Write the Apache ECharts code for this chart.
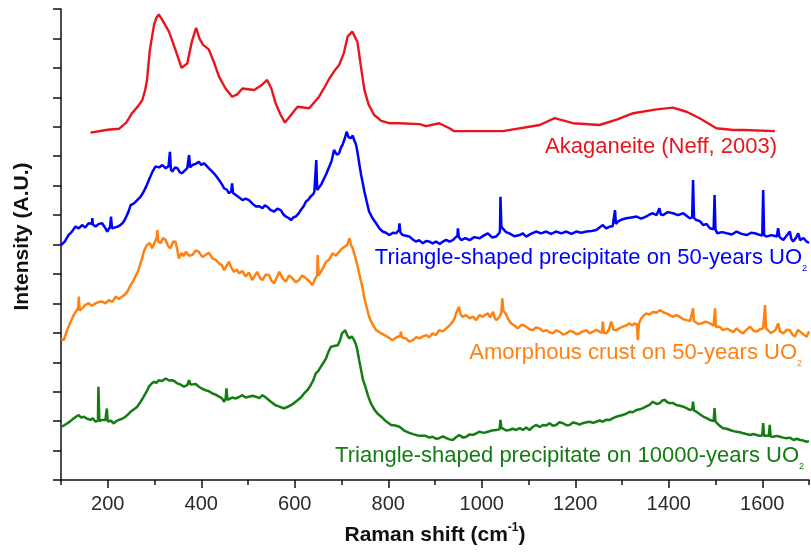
<!DOCTYPE html>
<html>
<head>
<meta charset="utf-8">
<script src="https://cdn.jsdelivr.net/npm/echarts@6/dist/echarts.min.js"></script>
<style>
  html, body { margin: 0; background: #fff; }
  #chart { width: 811px; height: 554px; }
</style>
</head>
<body>
<div id="chart"></div>
<script>
// spectra: [Raman shift, offset intensity]
const akaganeite = [[163,11.80],[200,11.90],[224,11.93],[240,12.15],[252,12.46],[265,12.70],[274,12.91],[280,13.25],[284,13.59],[290,14.6],[299,15.46],[304,15.70],[309,15.82],[316,15.65],[331,15.23],[345,14.6],[358,14.00],[370,14.15],[380,14.9],[389,15.36],[396,15.0],[404,14.78],[416,14.63],[427,14.2],[438,13.70],[452,13.3],[466,13.02],[477,13.1],[488,13.30],[513,13.25],[528,13.4],[541,13.59],[550,13.3],[559,12.80],[570,12.4],[579,12.14],[592,12.4],[606,12.68],[631,12.63],[652,13.02],[664,13.35],[674,13.64],[685,13.9],[695,14.10],[705,14.5],[713,15.06],[723,15.23],[734,14.89],[741,14.1],[749,13.25],[758,12.75],[770,12.40],[785,12.2],[802,12.12],[824,12.12],[867,12.09],[881,12.02],[909,12.12],[931,11.95],[941,11.85],[1045,11.85],[1124,12.06],[1156,12.29],[1195,12.12],[1252,12.06],[1290,12.25],[1324,12.46],[1374,12.59],[1409,12.65],[1438,12.51],[1466,12.29],[1502,11.95],[1538,11.89],[1559,11.89],[1627,11.85]];

const tri50 = [[100,7.98],[108,8.10],[116,8.32],[124,8.45],[131,8.61],[138,8.55],[145,8.66],[152,8.58],[159,8.72],[166,8.70],[167,8.90],[168,8.68],[174,8.61],[181,8.70],[188,8.72],[194,8.58],[199,8.44],[205,8.60],[207,8.95],[209,8.55],[213,8.49],[220,8.60],[227,8.66],[233,8.75],[238,8.89],[244,9.10],[249,9.34],[256,9.40],[263,9.51],[270,9.62],[277,9.80],[283,10.0],[288,10.19],[295,10.45],[302,10.65],[310,10.62],[317,10.70],[324,10.59],[330,10.66],[333,11.15],[335,10.55],[338,10.48],[344,10.62],[349,10.59],[354,10.46],[359,10.42],[365,10.52],[370,10.59],[374,11.04],[376,10.62],[381,10.70],[388,10.74],[395,10.81],[400,10.70],[406,10.76],[411,10.68],[416,10.59],[422,10.50],[427,10.42],[433,10.30],[438,10.19],[444,10.05],[449,9.91],[455,9.86],[459,9.74],[464,9.80],[466,10.08],[468,9.75],[474,9.68],[481,9.60],[488,9.51],[495,9.56],[502,9.51],[510,9.38],[517,9.29],[524,9.30],[531,9.23],[536,9.33],[541,9.29],[548,9.18],[556,9.12],[563,9.22],[570,9.17],[576,9.02],[581,8.95],[587,8.90],[592,8.83],[597,8.92],[602,8.95],[608,9.05],[613,9.17],[619,9.30],[624,9.46],[629,9.52],[634,9.63],[640,9.72],[642,9.80],[646,10.87],[648,9.85],[651,9.85],[657,10.05],[663,10.25],[668,10.42],[674,10.65],[679,10.85],[684,11.21],[690,11.05],[695,11.10],[699,11.30],[702,11.38],[707,11.60],[711,11.83],[715,11.65],[720,11.61],[724,11.70],[727,11.55],[731,11.40],[734,11.15],[738,10.75],[742,10.36],[746,10.05],[749,9.80],[754,9.45],[759,9.12],[766,8.90],[774,8.72],[781,8.55],[788,8.44],[795,8.40],[802,8.32],[810,8.40],[817,8.38],[823,8.50],[824,8.72],[826,8.40],[831,8.32],[838,8.30],[845,8.27],[852,8.18],[859,8.10],[866,8.15],[874,8.04],[881,8.12],[888,8.10],[895,8.04],[902,8.10],[910,8.02],[917,8.10],[924,8.16],[931,8.10],[938,8.15],[942,8.21],[948,8.30],[949,8.55],[951,8.25],[956,8.15],[965,8.22],[974,8.15],[984,8.25],[995,8.21],[1004,8.30],[1013,8.38],[1022,8.24],[1031,8.27],[1038,8.40],[1039,8.49],[1040,9.62],[1042,8.60],[1045,8.55],[1052,8.42],[1059,8.38],[1070,8.28],[1081,8.32],[1088,8.38],[1095,8.27],[1105,8.36],[1116,8.44],[1127,8.38],[1138,8.44],[1148,8.36],[1159,8.44],[1170,8.38],[1181,8.44],[1192,8.36],[1202,8.44],[1213,8.40],[1224,8.44],[1235,8.46],[1245,8.49],[1252,8.58],[1259,8.66],[1266,8.55],[1274,8.61],[1280,8.62],[1285,9.17],[1287,8.70],[1291,8.78],[1300,8.85],[1309,8.89],[1320,8.92],[1331,8.95],[1341,8.88],[1352,8.95],[1359,9.02],[1366,9.06],[1374,9.00],[1380,9.23],[1383,9.02],[1388,9.00],[1398,9.10],[1409,9.06],[1420,9.00],[1431,9.06],[1440,8.95],[1445,8.89],[1450,8.92],[1452,10.19],[1454,8.90],[1459,8.83],[1466,8.80],[1474,8.66],[1481,8.70],[1488,8.55],[1496,8.52],[1498,9.68],[1500,8.50],[1504,8.38],[1514,8.42],[1524,8.38],[1535,8.34],[1545,8.44],[1556,8.36],[1567,8.32],[1576,8.40],[1584,8.38],[1592,8.34],[1600,8.30],[1602,9.85],[1604,8.32],[1609,8.27],[1620,8.32],[1631,8.27],[1634,8.55],[1637,8.25],[1645,8.15],[1652,8.30],[1659,8.44],[1662,8.20],[1666,8.10],[1672,8.22],[1677,8.38],[1681,8.15],[1688,8.22],[1695,8.10],[1700,8.05]];

const crust50 = [[100,4.80],[106,4.75],[113,5.09],[120,5.35],[127,5.60],[133,5.75],[137,5.85],[138,6.23],[140,5.75],[145,5.83],[152,5.95],[159,6.00],[166,5.92],[174,6.00],[181,6.05],[188,6.06],[195,6.00],[202,6.11],[210,6.05],[217,6.23],[224,6.15],[231,6.23],[237,6.30],[242,6.40],[249,6.62],[254,6.75],[259,6.91],[265,7.10],[270,7.36],[274,7.55],[277,7.75],[281,7.90],[284,7.98],[290,8.05],[295,7.87],[300,8.05],[305,8.25],[306,8.49],[308,8.10],[313,8.04],[318,8.22],[324,8.15],[329,7.95],[334,7.87],[340,8.10],[345,8.09],[349,7.80],[352,7.53],[358,7.72],[362,7.60],[367,7.75],[374,7.62],[381,7.64],[388,7.80],[395,7.75],[402,7.58],[409,7.64],[416,7.72],[424,7.53],[431,7.48],[438,7.36],[444,7.30],[449,7.13],[455,7.30],[459,7.41],[465,7.20],[470,7.07],[476,7.15],[481,7.02],[488,7.10],[495,6.91],[502,7.05],[509,6.79],[515,6.95],[520,7.07],[526,6.85],[531,6.79],[538,6.98],[545,6.96],[550,6.78],[556,6.68],[562,6.90],[567,7.07],[574,6.85],[581,6.74],[588,6.95],[595,6.85],[602,6.72],[609,6.79],[616,6.95],[624,6.85],[631,6.75],[638,6.62],[644,6.85],[648,6.95],[649,7.64],[651,6.95],[656,7.07],[662,7.25],[667,7.41],[674,7.50],[681,7.70],[688,7.62],[695,7.75],[700,7.85],[706,7.92],[712,7.98],[717,8.21],[720,8.00],[724,7.87],[729,7.60],[734,7.30],[738,7.00],[742,6.74],[746,6.45],[749,6.17],[754,5.85],[759,5.55],[766,5.30],[774,5.09],[783,5.00],[792,4.92],[800,4.85],[809,4.75],[818,4.85],[826,4.90],[827,5.04],[829,4.85],[838,4.81],[845,4.70],[852,4.75],[860,4.85],[867,4.81],[874,4.88],[881,4.92],[888,4.85],[895,4.98],[902,4.92],[909,5.09],[917,5.05],[924,5.15],[931,5.25],[938,5.38],[942,5.50],[945,5.66],[951,5.88],[955,5.62],[959,5.54],[966,5.60],[974,5.49],[981,5.55],[988,5.43],[995,5.60],[1002,5.54],[1008,5.62],[1013,5.66],[1018,5.52],[1024,5.71],[1028,5.50],[1031,5.43],[1038,5.54],[1042,5.70],[1044,6.17],[1046,5.75],[1051,5.66],[1057,5.45],[1063,5.32],[1070,5.25],[1077,5.15],[1086,5.28],[1095,5.21],[1102,5.12],[1109,5.09],[1116,5.18],[1124,5.15],[1131,5.05],[1138,5.09],[1145,5.02],[1152,4.98],[1159,5.08],[1166,5.04],[1174,4.94],[1181,4.98],[1188,5.06],[1195,5.04],[1202,4.96],[1209,4.98],[1216,5.05],[1224,5.09],[1231,4.98],[1238,5.04],[1245,5.10],[1252,5.04],[1257,5.00],[1259,5.38],[1261,5.00],[1266,4.98],[1272,5.10],[1277,5.38],[1282,5.10],[1288,5.09],[1295,5.16],[1302,5.21],[1309,5.25],[1316,5.32],[1322,5.25],[1327,5.32],[1332,5.28],[1334,4.75],[1336,5.30],[1341,5.49],[1346,5.58],[1352,5.66],[1359,5.62],[1366,5.71],[1374,5.68],[1381,5.77],[1388,5.70],[1395,5.66],[1402,5.60],[1409,5.54],[1416,5.60],[1424,5.54],[1431,5.46],[1438,5.43],[1446,5.40],[1452,5.83],[1454,5.40],[1456,5.38],[1463,5.30],[1470,5.32],[1479,5.38],[1488,5.32],[1496,5.24],[1499,5.83],[1501,5.20],[1502,5.15],[1509,5.20],[1516,5.09],[1524,5.14],[1531,5.09],[1538,5.02],[1545,5.15],[1552,5.05],[1559,4.98],[1566,5.10],[1574,5.21],[1581,5.08],[1588,5.04],[1595,5.12],[1602,5.15],[1605,5.10],[1606,5.94],[1608,5.15],[1611,5.09],[1618,5.00],[1624,5.04],[1629,5.12],[1634,5.32],[1638,5.05],[1645,4.98],[1652,5.10],[1659,5.09],[1664,4.95],[1670,4.87],[1676,5.10],[1681,5.04],[1688,4.95],[1695,4.87],[1700,5.05]];

const tri10000 = [[100,1.81],[106,1.85],[113,1.92],[120,2.00],[127,2.09],[133,2.16],[138,2.20],[143,2.12],[149,2.15],[156,2.08],[163,2.04],[168,2.10],[174,1.98],[179,2.02],[180,3.17],[182,2.00],[188,2.04],[195,2.04],[197,2.10],[198,2.43],[200,1.98],[206,2.02],[213,1.92],[218,2.00],[224,2.04],[231,2.08],[238,2.15],[244,2.24],[249,2.32],[256,2.40],[263,2.49],[270,2.65],[277,2.83],[283,3.00],[288,3.17],[294,3.28],[299,3.34],[304,3.30],[309,3.39],[316,3.36],[324,3.45],[331,3.38],[338,3.39],[344,3.34],[349,3.28],[356,3.24],[363,3.17],[370,3.22],[374,3.39],[377,3.24],[381,3.22],[388,3.26],[395,3.17],[402,3.10],[409,3.05],[416,3.02],[424,2.94],[431,2.90],[438,2.83],[444,2.78],[449,2.66],[452,2.75],[454,3.11],[456,2.72],[459,2.71],[466,2.80],[474,2.77],[481,2.82],[488,2.88],[495,2.80],[502,2.83],[510,2.86],[517,2.83],[524,2.78],[531,2.88],[538,2.80],[545,2.71],[552,2.62],[559,2.54],[566,2.50],[577,2.43],[584,2.48],[592,2.54],[599,2.62],[606,2.71],[613,2.80],[620,2.94],[627,3.05],[634,3.22],[640,3.40],[645,3.62],[650,3.70],[656,3.85],[662,4.00],[667,4.13],[672,4.35],[677,4.52],[684,4.55],[692,4.58],[697,4.75],[701,4.98],[705,5.00],[708,5.09],[712,4.92],[717,4.81],[722,4.88],[727,4.75],[731,4.60],[734,4.41],[738,4.05],[742,3.73],[746,3.40],[751,3.17],[757,2.85],[763,2.60],[770,2.40],[777,2.26],[785,2.15],[792,2.04],[799,1.95],[806,1.87],[815,1.85],[824,1.81],[834,1.68],[845,1.60],[855,1.55],[866,1.50],[880,1.50],[888,1.44],[895,1.47],[902,1.40],[909,1.42],[917,1.48],[924,1.42],[931,1.38],[938,1.36],[945,1.45],[952,1.53],[960,1.44],[967,1.47],[974,1.55],[981,1.53],[988,1.58],[995,1.64],[1004,1.60],[1013,1.64],[1022,1.68],[1031,1.70],[1038,1.72],[1040,2.04],[1042,1.78],[1046,1.76],[1052,1.68],[1059,1.70],[1066,1.74],[1074,1.70],[1081,1.76],[1088,1.70],[1095,1.78],[1102,1.70],[1109,1.80],[1116,1.87],[1124,1.80],[1131,1.87],[1138,1.85],[1145,1.93],[1152,1.84],[1159,1.87],[1166,1.96],[1174,1.93],[1181,1.86],[1188,1.87],[1195,1.95],[1202,1.93],[1209,1.88],[1216,1.93],[1224,1.96],[1231,1.98],[1238,1.94],[1245,1.98],[1252,2.02],[1259,1.98],[1266,2.05],[1274,2.04],[1281,2.10],[1288,2.15],[1295,2.18],[1302,2.21],[1309,2.25],[1316,2.32],[1323,2.30],[1331,2.38],[1338,2.40],[1345,2.44],[1352,2.50],[1359,2.55],[1366,2.66],[1374,2.58],[1381,2.61],[1386,2.70],[1392,2.72],[1397,2.64],[1402,2.61],[1409,2.62],[1416,2.55],[1424,2.52],[1431,2.49],[1438,2.44],[1445,2.38],[1450,2.40],[1452,2.66],[1454,2.36],[1459,2.32],[1466,2.24],[1474,2.15],[1481,2.10],[1488,2.04],[1496,2.00],[1498,2.44],[1500,1.98],[1502,1.93],[1509,1.84],[1516,1.76],[1524,1.74],[1531,1.70],[1538,1.66],[1545,1.64],[1552,1.62],[1559,1.59],[1566,1.56],[1574,1.53],[1581,1.56],[1588,1.53],[1595,1.50],[1600,1.52],[1602,1.93],[1604,1.50],[1608,1.47],[1614,1.50],[1616,1.87],[1618,1.48],[1624,1.47],[1631,1.50],[1638,1.47],[1645,1.44],[1652,1.42],[1659,1.44],[1667,1.36],[1674,1.40],[1681,1.36],[1688,1.34],[1695,1.30],[1700,1.32]];

const seriesNames = ['Akaganeite (Neff, 2003)', 'Triangle-shaped precipitate on 50-years UO', 'Amorphous crust on 50-years UO', 'Triangle-shaped precipitate on 10000-years UO'];
const seriesColors = ['#e8161b', '#0000ff', '#ff8210', '#137c13'];
const majorTicks = [200, 400, 600, 800, 1000, 1200, 1400, 1600];
const minorTicks = [100, 300, 500, 700, 900, 1100, 1300, 1500, 1700];

const font = 'Liberation Sans, Arial, sans-serif';
const chart = echarts.init(document.getElementById('chart'));

function line(name, data, color, width) {
  return {
    name: name,
    type: 'line',
    data: data,
    showSymbol: false,
    symbol: 'none',
    animation: false,
    lineStyle: { color: color, width: width },
    z: 3
  };
}

// label with a subscript 2 at the end (UO2)
function subLabel(text, color, x, y) {
  return {
    type: 'text',
    x: x,
    y: y,
    z: 10,
    style: {
      text: '{m|' + text + '}{s|2}',
      align: 'right',
      verticalAlign: 'middle',
      fill: color,
      fontFamily: font,
      rich: {
        m: { fontSize: 22, lineHeight: 30, fontFamily: font, fill: color },
        s: { fontSize: 9, lineHeight: 9, verticalAlign: 'bottom', fontFamily: font, fill: color }
      }
    }
  };
}

chart.setOption({
  backgroundColor: '#ffffff',
  animation: false,
  grid: { left: 61, right: 2, top: 9, bottom: 74 },
  xAxis: [{
    type: 'value',
    min: 100,
    max: 1700,
    name: '{a|Raman shift (cm}{s|-1}{a|)}',
    nameLocation: 'middle',
    nameGap: 42,
    nameTextStyle: {
      rich: {
        a: { fontSize: 21, fontWeight: 'bold', fontFamily: font, color: '#111', lineHeight: 26 },
        s: { fontSize: 12, fontWeight: 'bold', fontFamily: font, color: '#111', lineHeight: 12, verticalAlign: 'top' }
      }
    },
    axisLine: { lineStyle: { color: '#111', width: 1.5 } },
    axisTick: { show: true, inside: false, length: 8, customValues: majorTicks, lineStyle: { color: '#111', width: 1.5 } },
    axisLabel: {
      customValues: majorTicks,
      formatter: function (v) { return String(v); },
      fontSize: 20,
      fontFamily: font,
      color: '#2a2a2a',
      margin: 14
    },
    splitLine: { show: false }
  }, {
    type: 'value',
    min: 100,
    max: 1700,
    position: 'bottom',
    axisLine: { show: false },
    axisTick: { show: true, inside: false, length: 5, customValues: minorTicks, lineStyle: { color: '#111', width: 1.5 } },
    axisLabel: { show: false },
    splitLine: { show: false }
  }],
  yAxis: {
    type: 'value',
    min: 0,
    max: 16,
    interval: 1,
    name: 'Intensity (A.U.)',
    nameLocation: 'middle',
    nameGap: 28,
    nameTextStyle: { fontSize: 21, fontWeight: 'bold', fontFamily: font, color: '#111', padding: [0, 0, 0, 16] },
    axisLine: { show: true, lineStyle: { color: '#111', width: 1.5 } },
    axisTick: { show: true, inside: false, length: 8, lineStyle: { color: '#111', width: 1.5 } },
    axisLabel: { show: false },
    splitLine: { show: false }
  },
  series: [
    line(seriesNames[0], akaganeite, seriesColors[0], 2.4),
    line(seriesNames[1], tri50, seriesColors[1], 2.5),
    line(seriesNames[2], crust50, seriesColors[2], 2.5),
    line(seriesNames[3], tri10000, seriesColors[3], 2.5)
  ],
  graphic: [
    {
      type: 'text',
      x: 777,
      y: 147,
      z: 10,
      style: {
        text: seriesNames[0],
        align: 'right',
        verticalAlign: 'middle',
        fill: seriesColors[0],
        fontSize: 22,
        fontFamily: font
      }
    },
    subLabel(seriesNames[1], seriesColors[1], 807, 258),
    subLabel(seriesNames[2], seriesColors[2], 802, 353),
    subLabel(seriesNames[3], seriesColors[3], 804, 456)
  ]
});
</script>
</body>
</html>
